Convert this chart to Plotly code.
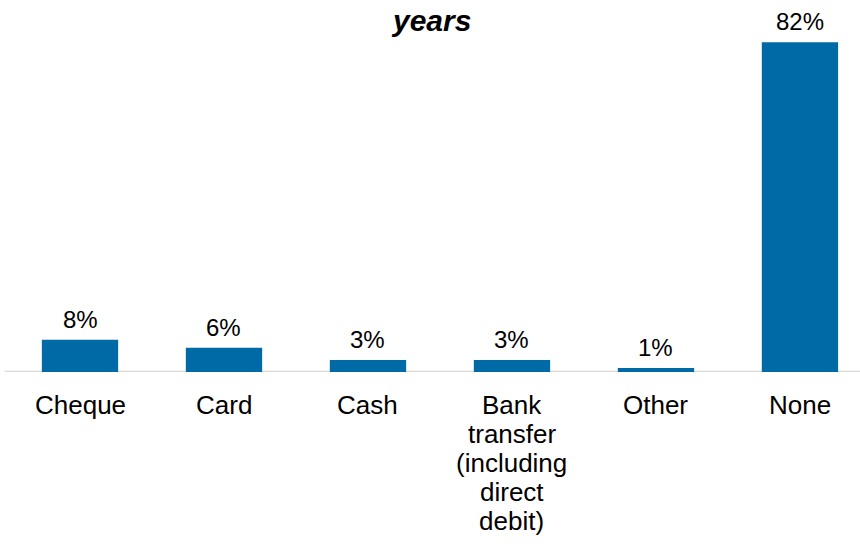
import plotly.graph_objects as go

categories = ["Cheque", "Card", "Cash", "Bank\ntransfer\n(including\ndirect\ndebit)", "Other", "None"]
values = [8, 6, 3, 3, 1, 82]
labels = [f"{v}%" for v in values]

FONT = "Liberation Sans, Arial"
xs = list(range(len(categories)))

fig = go.Figure(
    go.Bar(
        x=xs,
        y=values,
        marker=dict(color="#006AA7", line=dict(width=0)),
        width=0.53,
        cliponaxis=False,
    )
)

annotations = []

# Value labels above each bar
for i, (v, lab) in enumerate(zip(values, labels)):
    annotations.append(dict(
        text=lab,
        x=i, y=v, xref="x", yref="y",
        xanchor="center", yanchor="bottom",
        yshift=5,
        showarrow=False,
        font=dict(family=FONT, size=24, color="#000000"),
    ))

# Category labels, one annotation per line so the line spacing stays tight
for i, cat in enumerate(categories):
    for k, line in enumerate(cat.split("\n")):
        annotations.append(dict(
            text=line,
            x=i, y=0, xref="x", yref="y",
            xanchor="center", yanchor="middle",
            yshift=-(33 + 29 * k),
            showarrow=False,
            font=dict(family=FONT, size=26, color="#000000"),
        ))

annotations.append(dict(
    text="<b><i>years</i></b>",
    xref="paper", yref="paper",
    x=0.497, y=1.0,
    xanchor="center", yanchor="bottom",
    yshift=-29,
    showarrow=False,
    font=dict(size=30, family=FONT, color="#000000"),
))

fig.update_layout(
    width=860,
    height=549,
    margin=dict(l=8, r=0, t=10, b=177),
    plot_bgcolor="white",
    paper_bgcolor="white",
    showlegend=False,
    font=dict(family=FONT, size=24, color="#000000"),
    xaxis=dict(
        range=[-0.5, 5.417],
        showgrid=False,
        zeroline=False,
        showline=False,
        showticklabels=False,
        ticks="",
    ),
    yaxis=dict(
        range=[0, 90],
        visible=False,
        showgrid=False,
        zeroline=False,
    ),
    annotations=annotations,
    shapes=[
        dict(
            type="line",
            xref="paper", yref="y",
            x0=-0.004, x1=1.0, y0=0, y1=0,
            line=dict(color="#D9D9D9", width=2.5),
            layer="below",
        )
    ],
)

fig.write_html("out.html")
